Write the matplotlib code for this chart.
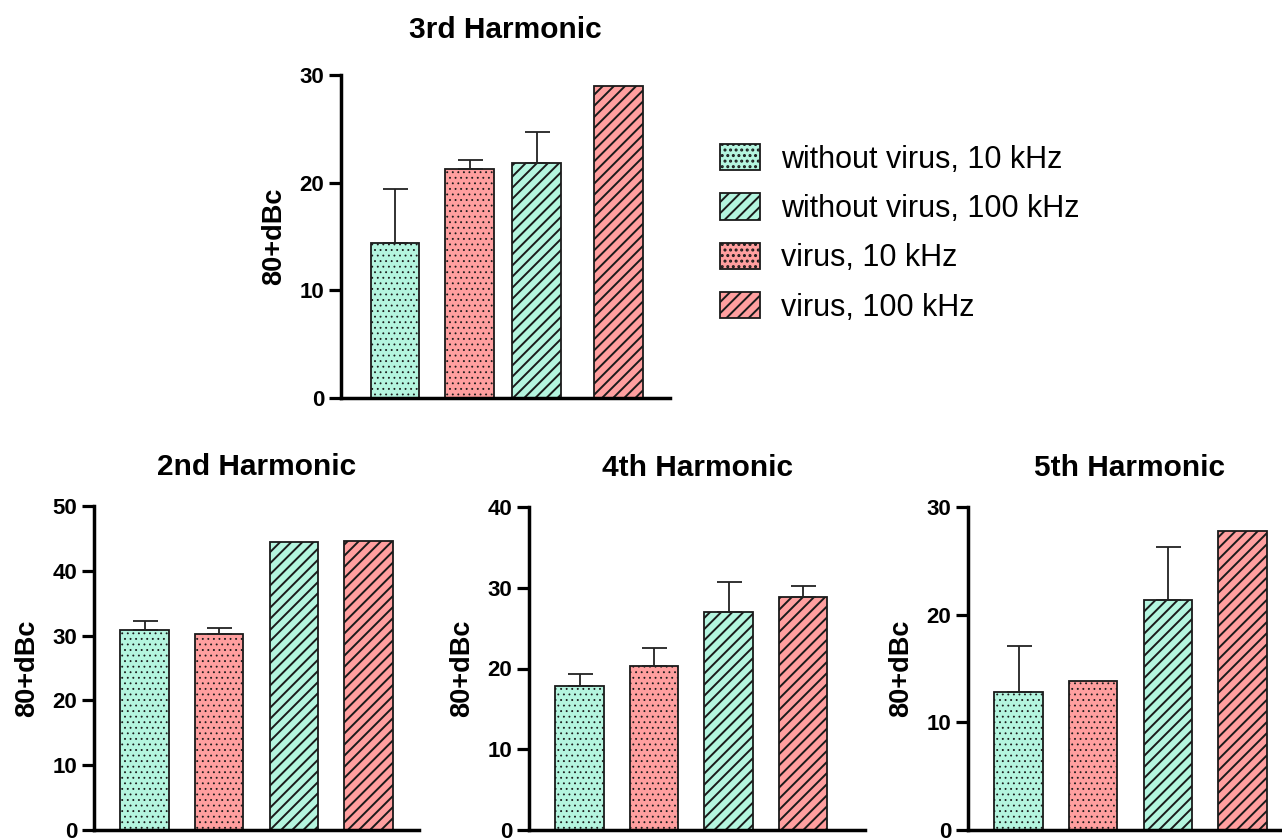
import matplotlib
matplotlib.use("Agg")
import matplotlib.pyplot as plt
import numpy as np

plt.rcParams['font.family'] = ['Liberation Sans', 'DejaVu Sans']
plt.rcParams['hatch.linewidth'] = 1.4

# Groups (legend order) and their styles
groups = ["without virus, 10 kHz", "without virus, 100 kHz", "virus, 10 kHz", "virus, 100 kHz"]
mint = "#b4f5df"
rose = "#ff9f9f"
group_colors = {groups[0]: mint, groups[1]: mint, groups[2]: rose, groups[3]: rose}
group_hatch = {groups[0]: "...", groups[1]: "///", groups[2]: "...", groups[3]: "///"}
hatch_lw = {"...": 0.6, "///": 1.4}

# Bar order inside every panel
bar_order = [groups[0], groups[2], groups[1], groups[3]]

# Mean values (80+dBc) and upper error for each harmonic, in bar_order
h3_mean = [14.4, 21.3, 21.8, 28.95]
h3_err = [5.0, 0.8, 2.9, 0.0]
h2_mean = [30.8, 30.3, 44.4, 44.6]
h2_err = [1.5, 0.8, 0.0, 0.0]
h4_mean = [17.8, 20.3, 27.0, 28.8]
h4_err = [1.5, 2.2, 3.7, 1.45]
h5_mean = [12.85, 13.85, 21.4, 27.8]
h5_err = [4.25, 0.0, 4.9, 0.0]

W, H = 1282, 839
fig = plt.figure(figsize=(W / 100, H / 100), dpi=100)


def px_axes(left, right, bottom, top):
    return fig.add_axes([left / W, (H - bottom) / H, (right - left) / W, (bottom - top) / H])


def styled_bar(ax, x, height, g, width=0.65):
    bc = ax.bar(x, height, width=width, color=group_colors[g], edgecolor="#1a1a1a",
                linewidth=1.3, hatch=group_hatch[g], zorder=2, label=g)
    for p in bc.patches:
        if hasattr(p, "set_hatch_linewidth"):
            p.set_hatch_linewidth(hatch_lw[group_hatch[g]])
    return bc


def panel(ax, title, means, errs, ymax, yticks, pos, xlim, title_pad):
    bars = []
    for x, g, m in zip(pos, bar_order, means):
        bars.append(styled_bar(ax, x, m, g))
    for x, m, e in zip(pos, means, errs):
        if e > 0:
            ax.errorbar(x, m, yerr=[[0], [e]], fmt="none", ecolor="#222222",
                        elinewidth=1.3, capsize=9, capthick=1.3, zorder=3)
    ax.set_ylim(0, ymax)
    ax.set_xlim(*xlim)
    ax.set_yticks(yticks)
    ax.set_xticks([])
    for s in ("top", "right"):
        ax.spines[s].set_visible(False)
    for s in ("left", "bottom"):
        ax.spines[s].set_linewidth(2.5)
        ax.spines[s].set_color("black")
    ax.tick_params(axis="y", length=9, width=2.3, pad=3, labelsize=16)
    for lab in ax.get_yticklabels():
        lab.set_fontweight("bold")
    ax.set_ylabel("80+dBc", fontsize=19.5, fontweight="bold", labelpad=9)
    ax.set_title(title, fontsize=21.5, fontweight="bold", pad=title_pad)
    return bars


ax3 = px_axes(341, 670, 398, 75)
bars3 = panel(ax3, "3rd Harmonic", h3_mean, h3_err, 30, [0, 10, 20, 30],
              [0, 1.0, 1.9, 3.0], (-0.725, 3.69), 27)

ax2 = px_axes(94, 419, 830, 506)
panel(ax2, "2nd Harmonic", h2_mean, h2_err, 50, [0, 10, 20, 30, 40, 50],
      [0, 1, 2, 3], (-0.68, 3.68), 22)

ax4 = px_axes(529, 865, 830, 507)
panel(ax4, "4th Harmonic", h4_mean, h4_err, 40, [0, 10, 20, 30, 40],
      [0, 1, 2, 3], (-0.68, 3.83), 22)

ax5 = px_axes(968, 1290, 830, 507)
panel(ax5, "5th Harmonic", h5_mean, h5_err, 30, [0, 10, 20, 30],
      [0, 1, 2, 3], (-0.68, 3.64), 22)

handle_of = {g: b for g, b in zip(bar_order, bars3)}
fig.legend([handle_of[g] for g in groups], groups, loc="upper left",
           bbox_to_anchor=(720 / W, 1 - 144 / H), frameon=False, fontsize=22,
           handlelength=1.3, handleheight=0.95, handletextpad=0.7,
           labelspacing=0.61, borderpad=0, borderaxespad=0)

fig.savefig("out.png", dpi=100)
